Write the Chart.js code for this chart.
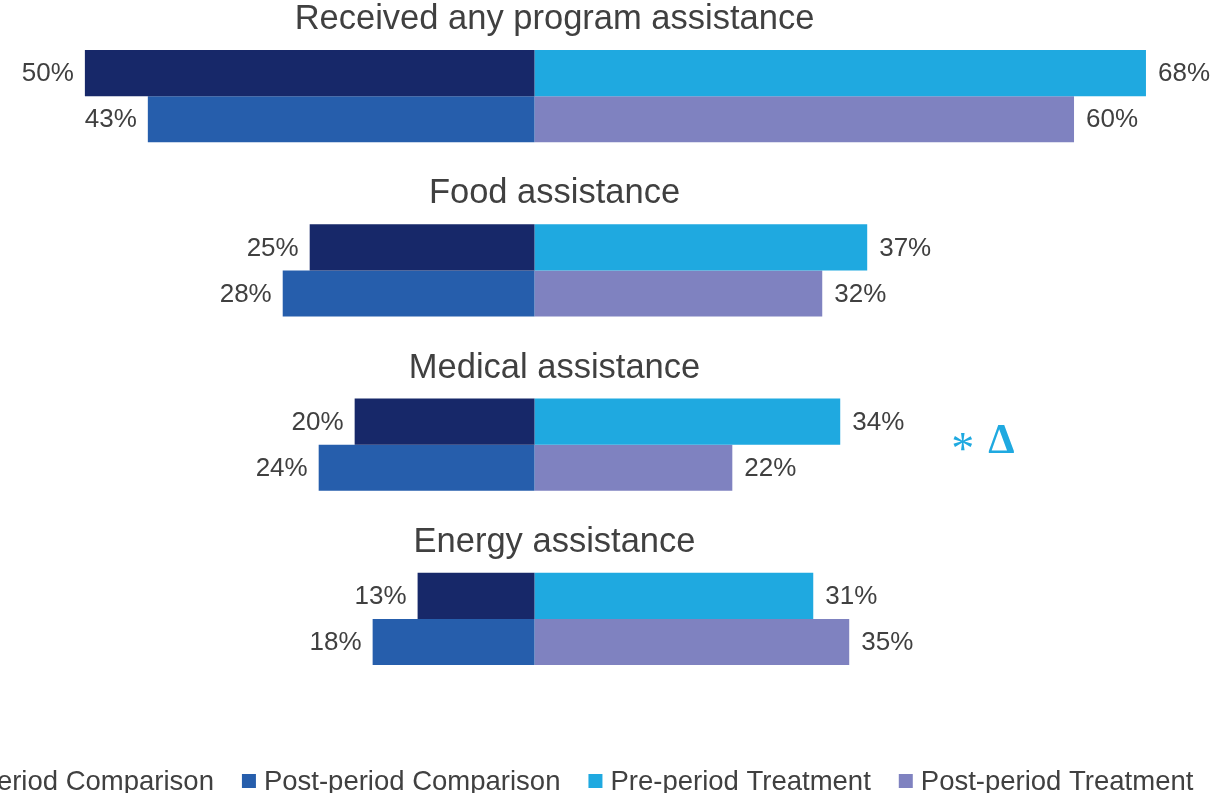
<!DOCTYPE html>
<html>
<head>
<meta charset="utf-8">
<script src="https://cdn.jsdelivr.net/npm/chart.js@4"></script>
<style>
  html, body { margin: 0; padding: 0; background: #fff; }
  #wrap { width: 1217px; height: 793px; }
</style>
</head>
<body>
<div id="wrap"><canvas id="chart"></canvas></div>
<script>
// Data
const groups = ['Received any program assistance', 'Food assistance', 'Medical assistance', 'Energy assistance'];
const preComparison = [50, 25, 20, 13];
const postComparison = [43, 28, 24, 18];
const preTreatment = [68, 37, 34, 31];
const postTreatment = [60, 32, 22, 35];
const markers = ['', '', '* \u0394', ''];

const seriesNames = ['Pre-period Comparison', 'Post-period Comparison', 'Pre-period Treatment', 'Post-period Treatment'];
const seriesColors = ['#172869', '#265EAC', '#1FA9E0', '#7F82C0'];

const textColor = '#404040';
const fontFamily = '"Liberation Sans", Arial, sans-serif';

// Comparison bars grow to the left
const neg = arr => arr.map(v => -v);

// Draw value labels, group titles, markers and the legend
const decorations = {
  id: 'decorations',
  afterDatasetsDraw(chart) {
    const ctx = chart.ctx;
    const xScale = chart.scales.x;
    const zeroX = xScale.getPixelForValue(0);

    ctx.save();
    // value labels
    ctx.font = '26px ' + fontFamily;
    ctx.fillStyle = textColor;
    ctx.textBaseline = 'middle';
    chart.data.datasets.forEach((ds, di) => {
      const meta = chart.getDatasetMeta(di);
      meta.data.forEach((bar, i) => {
        const v = ds.data[i];
        if (v < 0) {
          ctx.textAlign = 'right';
          ctx.fillText(Math.abs(v) + '%', bar.x - 11, bar.y + 1);
        } else {
          ctx.textAlign = 'left';
          ctx.fillText(v + '%', bar.x + 12, bar.y + 1);
        }
      });
    });

    // group titles above each pair of bars
    const topMeta = chart.getDatasetMeta(0);
    ctx.font = '34.5px ' + fontFamily;
    ctx.textAlign = 'center';
    ctx.textBaseline = 'alphabetic';
    groups.forEach((g, i) => {
      const bar = topMeta.data[i];
      const top = bar.y - bar.height / 2;
      ctx.fillText(g, zeroX + 20, top - 21);
    });

    // significance markers
    const botMeta = chart.getDatasetMeta(1);
    ctx.fillStyle = '#1FA9E0';
    markers.forEach((m, i) => {
      if (!m) return;
      const bar = topMeta.data[i];
      const yMid = (bar.y + botMeta.data[i].y) / 2;
      const x = xScale.getPixelForValue(47);
      ctx.textAlign = 'left';
      ctx.font = '46px "Liberation Serif", serif';
      ctx.fillText('*', x - 6, yMid + 19);
      ctx.font = 'bold 42px "Liberation Serif", serif';
      ctx.fillText('\u0394', x + 31, yMid + 8);
    });

    // legend (wider than the canvas, centred like the titles)
    ctx.font = '27.5px ' + fontFamily;
    ctx.textBaseline = 'middle';
    const box = 14, gapIn = 8, gapOut = 28;
    const widths = seriesNames.map(n => ctx.measureText(n).width);
    const total = widths.reduce((a, b) => a + b, 0) + seriesNames.length * (box + gapIn) + (seriesNames.length - 1) * gapOut;
    let x = zeroX + 16 - total / 2;
    const ly = 781;
    seriesNames.forEach((n, i) => {
      ctx.fillStyle = seriesColors[i];
      ctx.fillRect(x, ly - box / 2, box, box);
      ctx.fillStyle = textColor;
      ctx.textAlign = 'left';
      ctx.fillText(n, x + box + gapIn, ly + 1);
      x += box + gapIn + widths[i] + gapOut;
    });
    ctx.restore();
  }
};

new Chart(document.getElementById('chart'), {
  type: 'bar',
  data: {
    labels: groups,
    datasets: [
      { label: seriesNames[0], data: neg(preComparison), backgroundColor: seriesColors[0], stack: 'pre' },
      { label: seriesNames[1], data: neg(postComparison), backgroundColor: seriesColors[1], stack: 'post' },
      { label: seriesNames[2], data: preTreatment, backgroundColor: seriesColors[2], stack: 'pre' },
      { label: seriesNames[3], data: postTreatment, backgroundColor: seriesColors[3], stack: 'post' }
    ]
  },
  options: {
    indexAxis: 'y',
    responsive: true,
    maintainAspectRatio: false,
    animation: false,
    layout: { padding: { top: 9, bottom: 87, left: 0, right: 0 } },
    datasets: {
      bar: { barPercentage: 1.0, categoryPercentage: 0.528, borderWidth: 0 }
    },
    scales: {
      x: { stacked: true, min: -59.44, max: 75.9, display: false },
      y: { display: false }
    },
    plugins: {
      legend: { display: false },
      tooltip: { enabled: false }
    }
  },
  plugins: [decorations]
});
</script>
</body>
</html>
